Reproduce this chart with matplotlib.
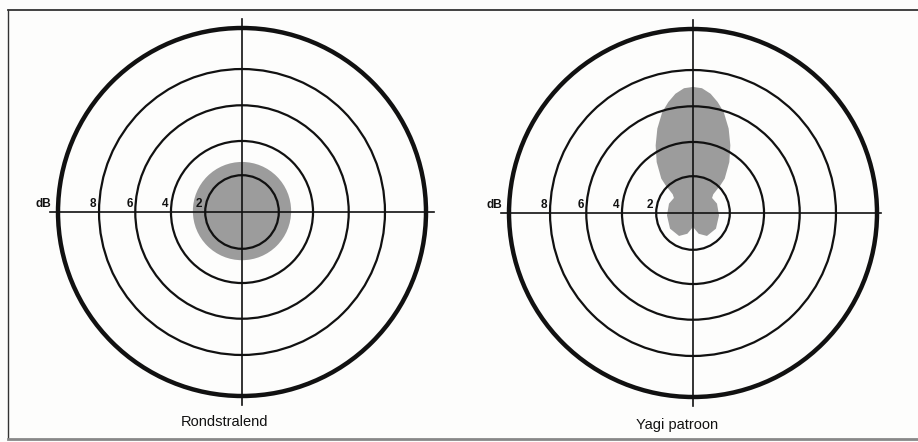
import matplotlib.pyplot as plt
from matplotlib.patches import Circle, Polygon
from matplotlib.lines import Line2D
import numpy as np

# ring values (dB) and their radii (outer ring = 1)
ring_labels = ["2", "4", "6", "8", "dB"]
ring_radii = [0.20, 0.386, 0.58, 0.777, 1.0]

# omnidirectional pattern: a plain circle
omni_radius = 0.267

# yagi pattern, right half, angle clockwise from north (deg) and radius
yagi_angle = [0, 4.1, 8.4, 12.5, 16.9, 22.9, 28.9, 35.5, 42.7, 44.7, 47.3,
              51.7, 68.7, 95.2, 124.3, 148.7, 164.7, 180]
yagi_radius = [0.685, 0.680, 0.655, 0.618, 0.574, 0.498, 0.420, 0.340, 0.254,
               0.211, 0.150, 0.132, 0.140, 0.142, 0.151, 0.146, 0.117, 0.076]

captions = ["Rondstralend", "Yagi patroon"]

W, H = 918, 442
fig = plt.figure(figsize=(W / 100, H / 100), dpi=100)
fig.patch.set_facecolor("#fdfdfc")

R_PX = 184.0      # outer ring radius in pixels
HALF = 210.0      # half width of each axes in pixels
GRAY = "#9c9c9c"


def make_axes(cx, cy):
    ax = fig.add_axes([(cx - HALF) / W, (H - cy - HALF) / H,
                       2 * HALF / W, 2 * HALF / H])
    lim = HALF / R_PX
    ax.set_xlim(-lim, lim)
    ax.set_ylim(-lim, lim)
    ax.set_aspect("equal")
    ax.axis("off")
    ax.patch.set_alpha(0)
    return ax


def draw_grid(ax, ext_left, ext_right, ext_v):
    for i, (lab, r) in enumerate(zip(ring_labels, ring_radii)):
        outer = i == len(ring_radii) - 1
        ax.add_patch(Circle((0, 0), r, fill=False, ec="#111111",
                            lw=3.2 if outer else 1.6, zorder=3))
        xoff = 0.035 if lab == "dB" else 0.015
        ax.text(-r - xoff, 0.012, lab, ha="right", va="bottom",
                fontsize=8.5, fontweight="bold", color="#111111",
                family="Liberation Sans", zorder=4)
    ax.plot([-1 - ext_left, 1 + ext_right], [0, 0], color="#111111",
            lw=1.2, zorder=3)
    ax.plot([0, 0], [-1 - ext_v, 1 + ext_v], color="#111111",
            lw=1.2, zorder=3)


# left: omnidirectional
ax1 = make_axes(242, 212)
ax1.add_patch(Circle((0, 0.005), omni_radius, fc=GRAY, ec="none", zorder=1))
draw_grid(ax1, 0.045, 0.045, 0.05)

# right: yagi
ax2 = make_axes(693, 213)
ang = np.deg2rad(np.concatenate([yagi_angle, -np.array(yagi_angle[::-1])]))
rad = np.concatenate([yagi_radius, yagi_radius[::-1]])
pts = np.column_stack([rad * np.sin(ang), rad * np.cos(ang)])
ax2.add_patch(Polygon(pts, closed=True, fc=GRAY, ec="none", zorder=1))
draw_grid(ax2, 0.045, 0.02, 0.05)

fig.text(225 / W, 1 - 422 / H, captions[0], ha="center", va="center",
         fontsize=10.5, family="Liberation Sans", color="#111111")
fig.text(677 / W, 1 - 425 / H, captions[1], ha="center", va="center",
         fontsize=10.5, family="Liberation Sans", color="#111111")

# frame
fig.add_artist(Line2D([8 / W, 8 / W], [1 - 10 / H, 1 - 438 / H],
                      color="#333333", lw=1.0))
fig.add_artist(Line2D([8 / W, 1.0], [1 - 10 / H, 1 - 10 / H],
                      color="#333333", lw=1.3))
fig.add_artist(Line2D([8 / W, 1.0], [1 - 439 / H, 1 - 439 / H],
                      color="#888888", lw=2.0))

fig.savefig("out.png", dpi=100, facecolor=fig.get_facecolor())
